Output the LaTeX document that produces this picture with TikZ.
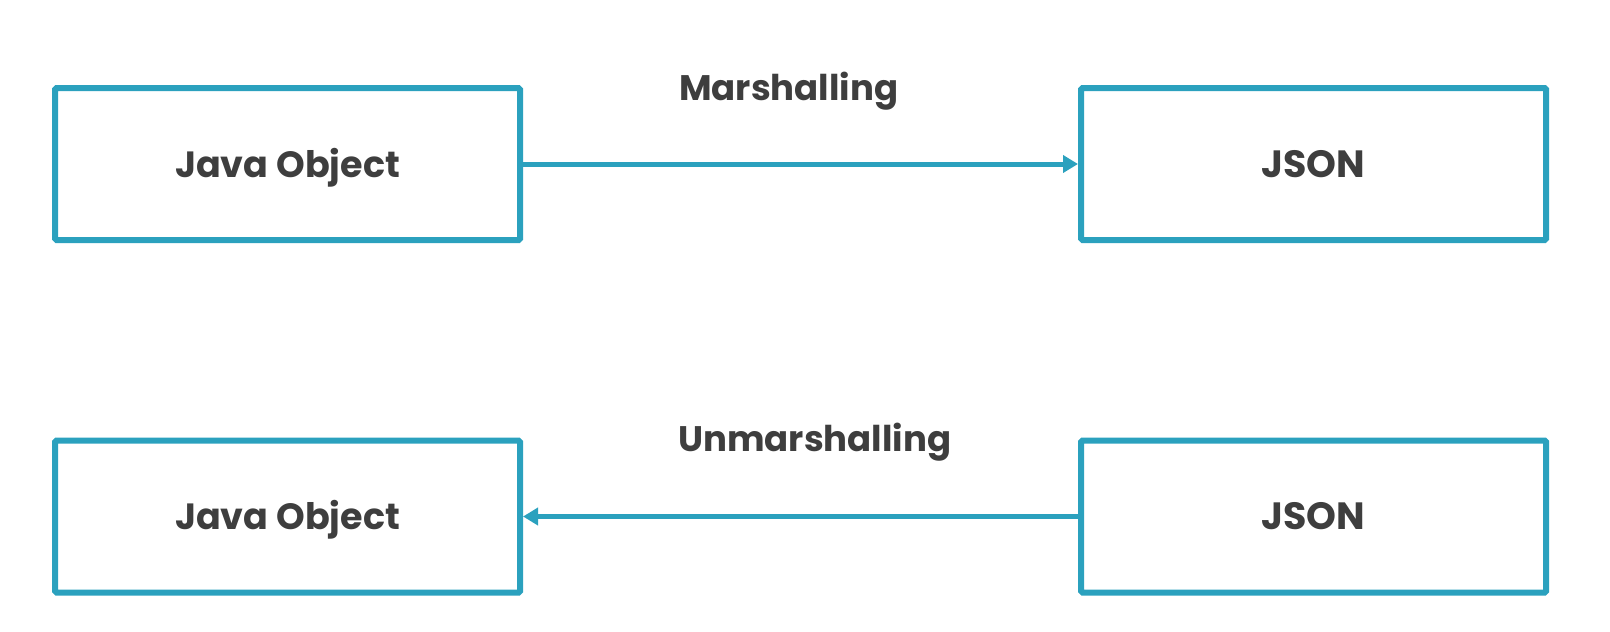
\documentclass[tikz,border=0pt]{standalone}
\usepackage{fontspec}
\setmainfont{Poppins}
\usetikzlibrary{arrows.meta}
\definecolor{boxblue}{RGB}{43,161,190}
\definecolor{txtgray}{RGB}{62,62,62}
\begin{document}
\begin{tikzpicture}[x=1pt,y=-1pt,
  objbox/.style={draw=boxblue,line width=6pt,rounded corners=1.5pt,minimum width=465pt,minimum height=152pt,inner sep=0pt,
    text=txtgray,text height=26.5pt,text depth=0pt},
  lbl/.style={font=\fontsize{35.5}{42}\selectfont\bfseries,text=txtgray,inner sep=0pt,anchor=base west},
  conn/.style={draw=boxblue,line width=5pt,-{Triangle[length=15pt,width=17pt]}}]
\useasboundingbox (0,0) rectangle (1610,632);
\node[objbox,font=\fontsize{36.5}{42}\selectfont\bfseries] (j1) at (287.5,164) {Java Object};
\node[objbox,font=\fontsize{38}{44}\selectfont\bfseries] (s1) at (1313.5,164) {JSON};
\node[objbox,font=\fontsize{36.5}{42}\selectfont\bfseries] (j2) at (287.5,516.5) {Java Object};
\node[objbox,font=\fontsize{38}{44}\selectfont\bfseries] (s2) at (1313.5,516.5) {JSON};
\draw[conn] (j1.east) -- (s1.west);
\draw[conn] (s2.west) -- (j2.east);
\node[lbl] (m) at (679,100) {Marshalling};
\node[lbl] (u) at (678,451.7) {Unmarshalling};
\end{tikzpicture}
\end{document}
